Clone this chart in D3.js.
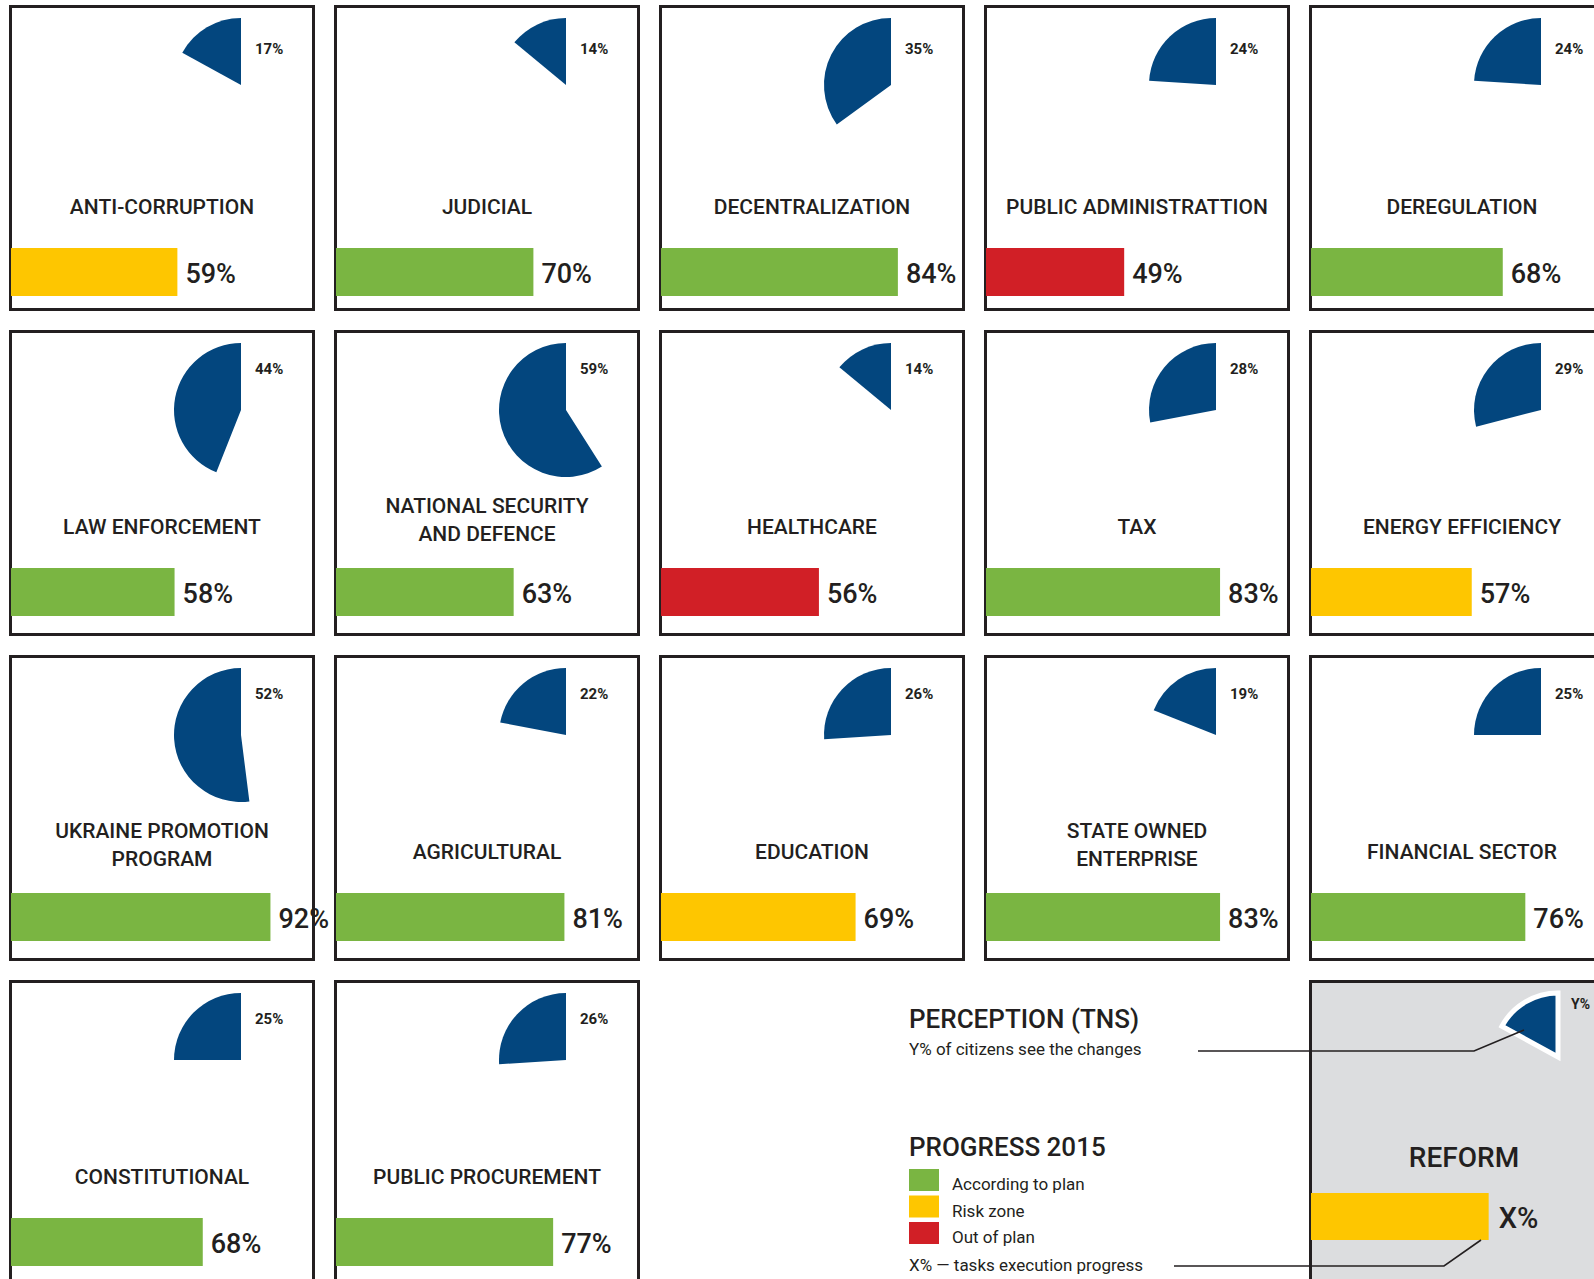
<!DOCTYPE html>
<html>
<head>
<meta charset="utf-8">
<style>
  body { margin: 0; background: #fff; overflow: hidden; }
  text { font-family: "Roboto", "DejaVu Sans", sans-serif; fill: #231f20; }
</style>
</head>
<body>
<script src="https://d3js.org/d3.v7.min.js"></script>
<script>

// reform cards, left to right, top to bottom
var reforms = [
  "ANTI-CORRUPTION", "JUDICIAL", "DECENTRALIZATION", "PUBLIC ADMINISTRATTION", "DEREGULATION",
  "LAW ENFORCEMENT", "NATIONAL SECURITY\nAND DEFENCE", "HEALTHCARE", "TAX", "ENERGY EFFICIENCY",
  "UKRAINE PROMOTION\nPROGRAM", "AGRICULTURAL", "EDUCATION", "STATE OWNED\nENTERPRISE", "FINANCIAL SECTOR",
  "CONSTITUTIONAL", "PUBLIC PROCUREMENT"
];
// Y% of citizens see the changes (TNS)
var perception = [17, 14, 35, 24, 24, 44, 59, 14, 28, 29, 52, 22, 26, 19, 25, 25, 26];
// X% tasks execution progress 2015
var progress = [59, 70, 84, 49, 68, 58, 63, 56, 83, 57, 92, 81, 69, 83, 76, 68, 77];
var reformStatus = ["risk", "plan", "plan", "out", "plan",
                    "plan", "plan", "out", "plan", "risk",
                    "plan", "plan", "risk", "plan", "plan",
                    "plan", "plan"];

var statusKeys = ["plan", "risk", "out"];
var statusLabels = ["According to plan", "Risk zone", "Out of plan"];

// sample card of the legend
var sampleName = "REFORM";
var samplePerception = 17;
var sampleProgress = 63;

var W = 1594, H = 1279;
var cardW = 306, cardH = 306, step = 325, left0 = 9, top0 = 5;
var cols = 5;
var rowShift = [5, 0, 0, 0]; // first row text and bars sit a little lower

var color = d3.scaleOrdinal()
    .domain(statusKeys)
    .range(["#7ab542", "#fec600", "#d11f26"]);

var barX = d3.scaleLinear().domain([0, 100]).range([0, 282]);
var pieAngle = d3.scaleLinear().domain([0, 100]).range([0, -2 * Math.PI]);

var arc = d3.arc().innerRadius(0).outerRadius(67).startAngle(0);

var svg = d3.select("body").append("svg")
    .attr("width", W)
    .attr("height", H);

svg.append("rect").attr("width", W).attr("height", H).attr("fill", "#fff");

var data = reforms.map(function(d, i) {
  return { name: d, y: perception[i], x: progress[i], status: reformStatus[i], i: i,
           row: Math.floor(i / cols), col: i % cols };
});

var card = svg.selectAll(".card")
    .data(data)
  .enter().append("g")
    .attr("class", "card")
    .attr("transform", function(d) {
      return "translate(" + (left0 + d.col * step) + "," + (top0 + d.row * step) + ")";
    });

card.append("rect")
    .attr("x", 1.5).attr("y", 1.5)
    .attr("width", cardW - 3).attr("height", cardH - 3)
    .attr("fill", "#fff")
    .attr("stroke", "#231f20")
    .attr("stroke-width", 3);

// perception wedge
card.append("path")
    .attr("transform", "translate(232,80)")
    .attr("d", function(d) { return arc({ endAngle: pieAngle(d.y) }); })
    .attr("fill", "#03467e");

var inner = card.append("g")
    .attr("transform", function(d) { return "translate(0," + rowShift[d.row] + ")"; });

inner.append("text")
    .attr("x", 246)
    .attr("y", 44)
    .style("font-size", "15px")
    .style("font-weight", "700")
    .text(function(d) { return d.y + "%"; });

// reform name
inner.each(function(d) {
  var lines = d.name.split("\n");
  var t = d3.select(this).append("text")
      .attr("text-anchor", "middle")
      .style("font-size", "21px")
      .style("font-weight", "500");
  var y0 = lines.length > 1 ? 183 : 204;
  lines.forEach(function(l, k) {
    t.append("tspan").attr("x", cardW / 2).attr("y", y0 + k * 28).text(l);
  });
});

// progress bar
inner.append("rect")
    .attr("x", 2)
    .attr("y", 238)
    .attr("width", function(d) { return barX(d.x); })
    .attr("height", 48)
    .attr("fill", function(d) { return color(d.status); });

inner.append("text")
    .attr("x", function(d) { return 2 + barX(d.x) + 8; })
    .attr("y", 273)
    .style("font-size", "27px")
    .style("font-weight", "500")
    .text(function(d) { return d.x + "%"; });

// ---- legend ----
var lg = svg.append("g");

lg.append("text")
    .attr("x", 909).attr("y", 1028)
    .style("font-size", "26px").style("font-weight", "500")
    .text("PERCEPTION (TNS)");

lg.append("text")
    .attr("x", 909).attr("y", 1055)
    .style("font-size", "17px")
    .text("Y% of citizens see the changes");

lg.append("text")
    .attr("x", 909).attr("y", 1156)
    .style("font-size", "26px").style("font-weight", "500")
    .text("PROGRESS 2015");

var items = lg.selectAll(".item")
    .data(statusKeys)
  .enter().append("g")
    .attr("class", "item")
    .attr("transform", function(d, i) { return "translate(909," + (1169 + i * 26.5) + ")"; });

items.append("rect")
    .attr("width", 30).attr("height", 22)
    .attr("fill", function(d) { return color(d); });

items.append("text")
    .attr("x", 43).attr("y", 21)
    .style("font-size", "17px")
    .text(function(d, i) { return statusLabels[i]; });

lg.append("text")
    .attr("x", 909).attr("y", 1271)
    .style("font-size", "17px")
    .text("X% \u2014 tasks execution progress");

// sample card
var sc = svg.append("g").attr("transform", "translate(" + (left0 + 4 * step) + "," + (top0 + 3 * step) + ")");

sc.append("rect")
    .attr("x", 1.5).attr("y", 1.5)
    .attr("width", cardW - 3).attr("height", cardH - 3)
    .attr("fill", "#dcdddf")
    .attr("stroke", "#231f20")
    .attr("stroke-width", 3);

sc.append("path")
    .attr("transform", "translate(249,77)")
    .attr("d", d3.arc().innerRadius(0).outerRadius(64).startAngle(0)({ endAngle: pieAngle(samplePerception) }))
    .attr("fill", "#03467e")
    .attr("stroke", "#fff")
    .attr("stroke-width", 5)
    .attr("stroke-linejoin", "miter");

sc.append("text")
    .attr("x", 262).attr("y", 29)
    .style("font-size", "14px").style("font-weight", "700")
    .text("Y%");

sc.append("text")
    .attr("x", 155).attr("y", 187)
    .attr("text-anchor", "middle")
    .style("font-size", "28px").style("font-weight", "500")
    .text(sampleName);

sc.append("rect")
    .attr("x", 2).attr("y", 213)
    .attr("width", barX(sampleProgress)).attr("height", 47)
    .attr("fill", color("risk"));

sc.append("text")
    .attr("x", 2 + barX(sampleProgress) + 10).attr("y", 248)
    .style("font-size", "29px").style("font-weight", "500")
    .text("X%");

// leader lines
var leader = d3.line();
svg.append("path")
    .attr("d", leader([[1198, 1051], [1474, 1051], [1524, 1030]]))
    .attr("fill", "none").attr("stroke", "#231f20").attr("stroke-width", 1.6);

svg.append("path")
    .attr("d", leader([[1174, 1266], [1444, 1266], [1481, 1240]]))
    .attr("fill", "none").attr("stroke", "#231f20").attr("stroke-width", 1.6);

</script>
</body>
</html>
